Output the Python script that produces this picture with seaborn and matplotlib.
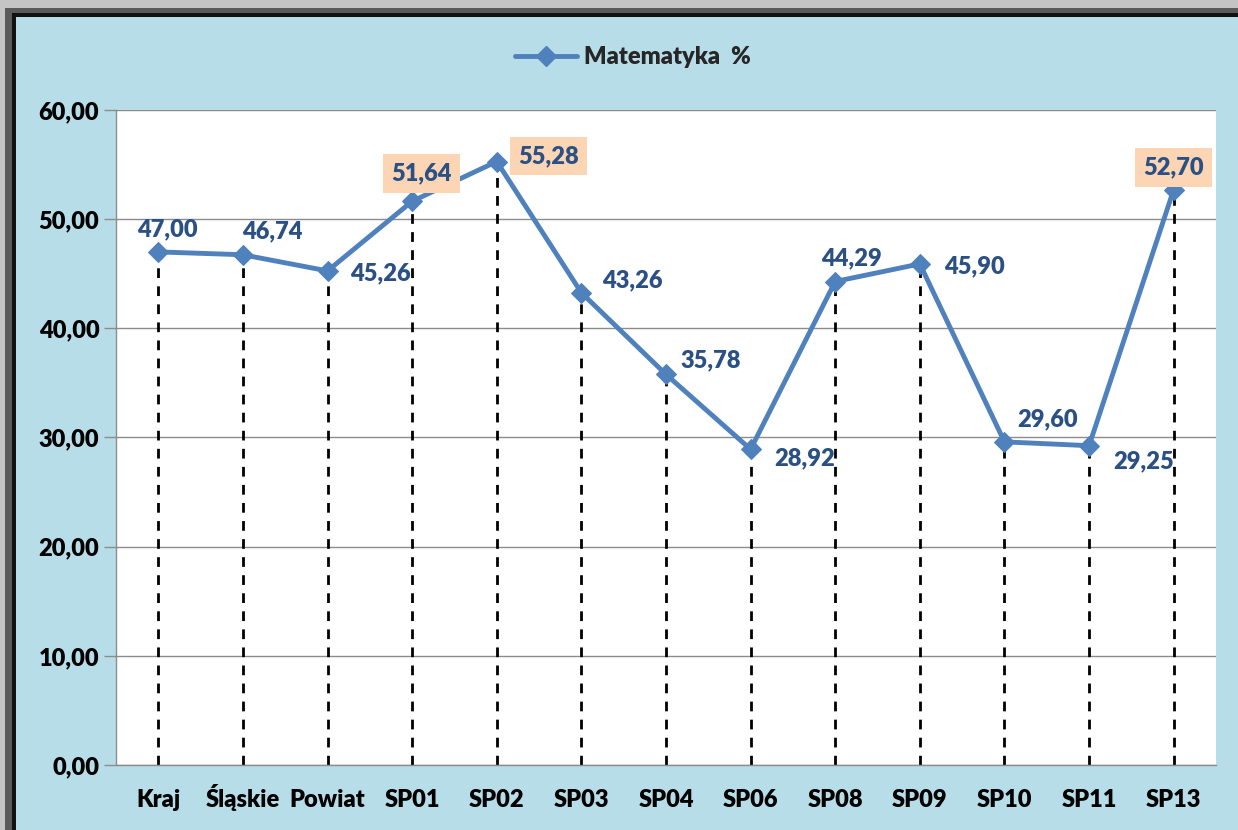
import matplotlib
matplotlib.use("Agg")
import matplotlib.pyplot as plt
import seaborn as sns
import pandas as pd
from matplotlib.patches import Rectangle
from matplotlib.lines import Line2D

categories = ["Kraj", "Śląskie", "Powiat", "SP01", "SP02", "SP03", "SP04",
              "SP06", "SP08", "SP09", "SP10", "SP11", "SP13"]
values = [47.00, 46.74, 45.26, 51.64, 55.28, 43.26, 35.78, 28.92, 44.29,
          45.90, 29.60, 29.25, 52.70]
highlighted = ["SP01", "SP02", "SP13"]
series_name = "Matematyka  %"
y_ticks = [0, 10, 20, 30, 40, 50, 60]

# label offsets in points (dx, dy)
label_offsets = [(6.5, 16), (21, 17), (38, -2), (7, 20), (37, 4), (37, 9),
                 (32, 10), (39, -6.5), (12, 17), (39, -1.5), (31, 16), (39, -11.5), (0, 16)]

sns.set_theme(style="white")
plt.rcParams["font.family"] = ["Lato", "DejaVu Sans"]
plt.rcParams["font.weight"] = "heavy"

W, H = 1238, 830
fig = plt.figure(figsize=(W / 100, H / 100), dpi=100)
fig.patch.set_facecolor("#C4C4C4")
# outer frame
for x0, y0, col in [(5, 8, "#5A5A5A"), (12, 13, "#111111"), (16, 17, "#B7DDE8")]:
    fig.patches.append(Rectangle((x0 / W, 0), 1, 1 - y0 / H, transform=fig.transFigure,
                                 facecolor=col, edgecolor="none", zorder=-10))

ax = fig.add_axes([116 / W, 65 / H, 1100 / W, 655 / H])
ax.set_zorder(2)
ax.set_facecolor("white")

df = pd.DataFrame({"cat": categories, "val": values})
line_color = "#4F81BD"

# dashed drop lines
ax.vlines(range(len(categories)), 0, values, colors="black", linestyles=(0, (3.5, 3)),
          linewidth=2, zorder=2)

sns.lineplot(data=df, x="cat", y="val", sort=False, ax=ax, color=line_color,
             linewidth=3.5, marker="D", markersize=10, markeredgecolor=line_color,
             zorder=3, legend=False)

ax.set_xlim(-0.5, len(categories) - 0.5)
ax.set_ylim(0, 60)
ax.set_yticks(y_ticks)
ax.set_yticklabels([f"{v:.2f}".replace(".", ",") for v in y_ticks],
                   fontsize=17, fontweight="heavy", color="black")
ax.set_xticks(range(len(categories)))
ax.set_xticklabels(categories, fontsize=17, fontweight="heavy", color="black",
                   va="baseline")
ax.tick_params(axis="y", length=9, width=1, color="#8C8C8C", pad=3, left=True)
ax.tick_params(axis="x", length=0, pad=30)
ax.yaxis.grid(True, color="#8C8C8C", linewidth=1)
ax.set_axisbelow(True)
ax.set_xlabel("")
ax.set_ylabel("")
for s in ["top", "right"]:
    ax.spines[s].set_visible(False)
ax.spines["left"].set_color("#8C8C8C")
ax.spines["bottom"].set_color("#8C8C8C")
ax.spines["left"].set_linewidth(1)
ax.spines["bottom"].set_linewidth(1)

label_color = "#2B5084"
for i, (c, v) in enumerate(zip(categories, values)):
    dx, dy = label_offsets[i]
    txt = f"{v:.2f}".replace(".", ",")
    bbox = None
    if c in highlighted:
        bbox = dict(boxstyle="square,pad=0.35", facecolor="#FCD5B4", edgecolor="none")
    ax.annotate(txt, (i, v), xytext=(dx, dy), textcoords="offset points",
                ha="center", va="center", fontsize=17, fontweight="heavy",
                color=label_color, bbox=bbox, zorder=5)

handle = Line2D([0], [0], color=line_color, linewidth=3.5, marker="D",
                markersize=10, markeredgecolor=line_color)
fig.legend([handle], [series_name], loc="center", bbox_to_anchor=(633 / W, 1 - 57 / H),
           frameon=False, prop={"size": 17, "weight": "heavy"}, handlelength=2.6,
           handletextpad=0.3)

fig.savefig("out.png", dpi=100)
